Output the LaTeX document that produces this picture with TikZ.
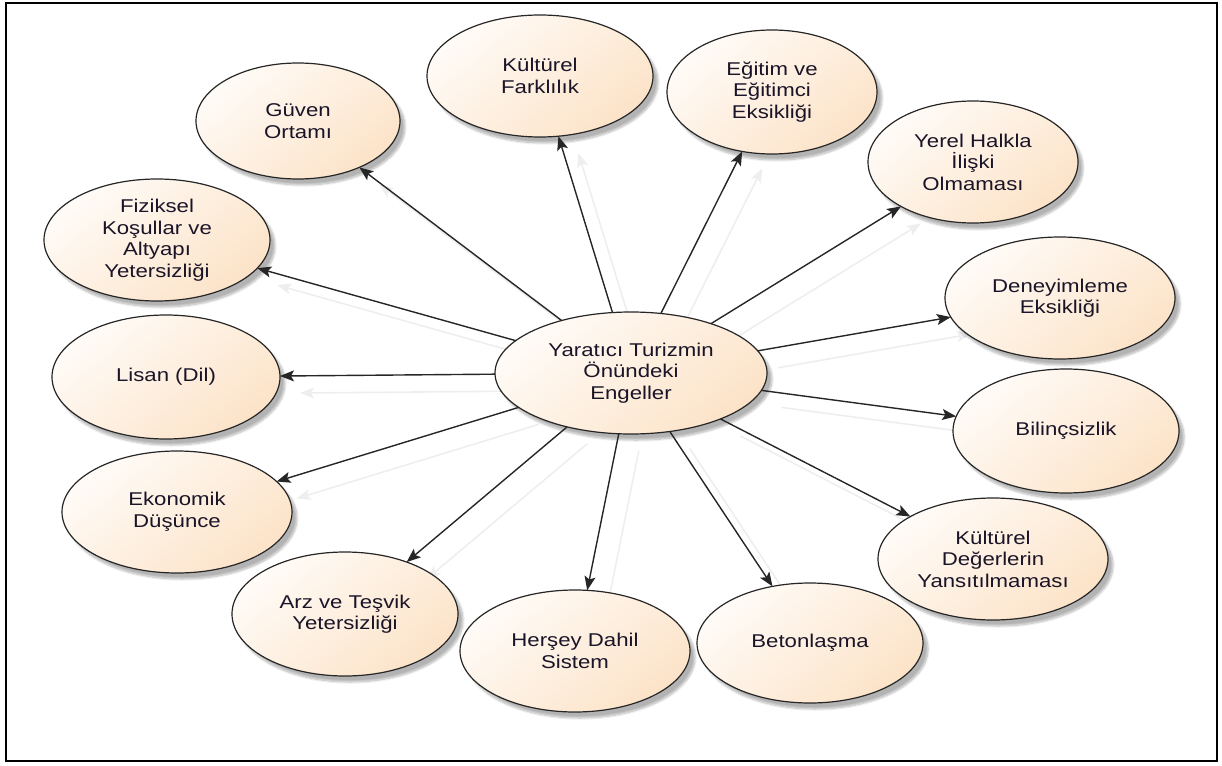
\documentclass[tikz,border=0pt]{standalone}
\usepackage{fontspec}
\setmainfont{Liberation Sans}[FakeStretch=1.2]
\usetikzlibrary{shapes.geometric, arrows.meta, shadows.blur}
\definecolor{bubA}{HTML}{FFFBF7}
\definecolor{bubB}{HTML}{FCE3C8}
\definecolor{ink}{HTML}{1A1428}
\definecolor{ghost}{HTML}{EEEEEE}
\pgfdeclarelayer{bg}
\pgfsetlayers{bg,main}
\begin{document}
\begin{tikzpicture}[x=1pt, y=-1pt,
  bubble/.style={ellipse, draw=black!85, line width=1.2pt, inner sep=0pt, outer sep=0pt,
    top color=bubA, bottom color=bubB, shading angle=40, align=center,
    font=\fontsize{18.5}{21.5}\selectfont, text=ink,
    blur shadow={shadow xshift=5pt, shadow yshift=-6pt, shadow blur steps=10, shadow opacity=30}},
  link/.style={draw=black!85, line width=1.4pt, -{Stealth[length=14pt,width=11pt,inset=3pt]}},
  ghostlink/.style={draw=ghost, line width=1.6pt, -{Stealth[length=14pt,width=11pt,inset=3pt]},
    transform canvas={xshift=20pt, yshift=-17pt}}]
\useasboundingbox (0,0) rectangle (1222,765);
\draw[line width=2.5pt] (6,3) rectangle (1217,761);

% central topic
\node[bubble, minimum width=272pt, minimum height=122pt] (c) at (631,373) {Yaratıcı Turizmin\\Önündeki\\Engeller};

% surrounding obstacles
\node[bubble, minimum width=226pt, minimum height=122pt] (kf) at (540,76)  {Kültürel\\Farklılık};
\node[bubble, minimum width=210pt, minimum height=124pt] (eg) at (772,92)  {Eğitim ve\\Eğitimci\\Eksikliği};
\node[bubble, minimum width=204pt, minimum height=116pt] (gv) at (298,121) {Güven\\Ortamı};
\node[bubble, minimum width=210pt, minimum height=122pt] (yh) at (973,162) {Yerel Halkla\\İlişki\\Olmaması};
\node[bubble, minimum width=226pt, minimum height=122pt] (fz) at (157,240) {Fiziksel\\Koşullar ve\\Altyapı\\Yetersizliği};
\node[bubble, minimum width=230pt, minimum height=122pt] (de) at (1060,298) {Deneyimleme\\Eksikliği};
\node[bubble, minimum width=228pt, minimum height=124pt] (ls) at (166,377) {Lisan (Dil)};
\node[bubble, minimum width=226pt, minimum height=124pt] (bl) at (1066,431) {Bilinçsizlik};
\node[bubble, minimum width=230pt, minimum height=122pt] (ek) at (177,512) {Ekonomik\\Düşünce};
\node[bubble, minimum width=230pt, minimum height=122pt] (kd) at (993,559) {Kültürel\\Değerlerin\\Yansıtılmaması};
\node[bubble, minimum width=226pt, minimum height=124pt] (az) at (345,614) {Arz ve Teşvik\\Yetersizliği};
\node[bubble, minimum width=230pt, minimum height=122pt] (hd) at (575,651) {Herşey Dahil\\Sistem};
\node[bubble, minimum width=226pt, minimum height=120pt] (bt) at (810,643) {Betonlaşma};

% faint offset echoes of the connectors
\begin{pgfonlayer}{bg}
\foreach \t in {kf,eg,gv,yh,fz,de,ls,bl,ek,kd,az,hd,bt}
  \draw[ghostlink] (c) -- (\t);
\end{pgfonlayer}

% connectors
\foreach \t in {kf,eg,gv,yh,fz,de,ls,bl,ek,kd,az,hd,bt}
  \draw[link] (c) -- (\t);
\end{tikzpicture}
\end{document}
